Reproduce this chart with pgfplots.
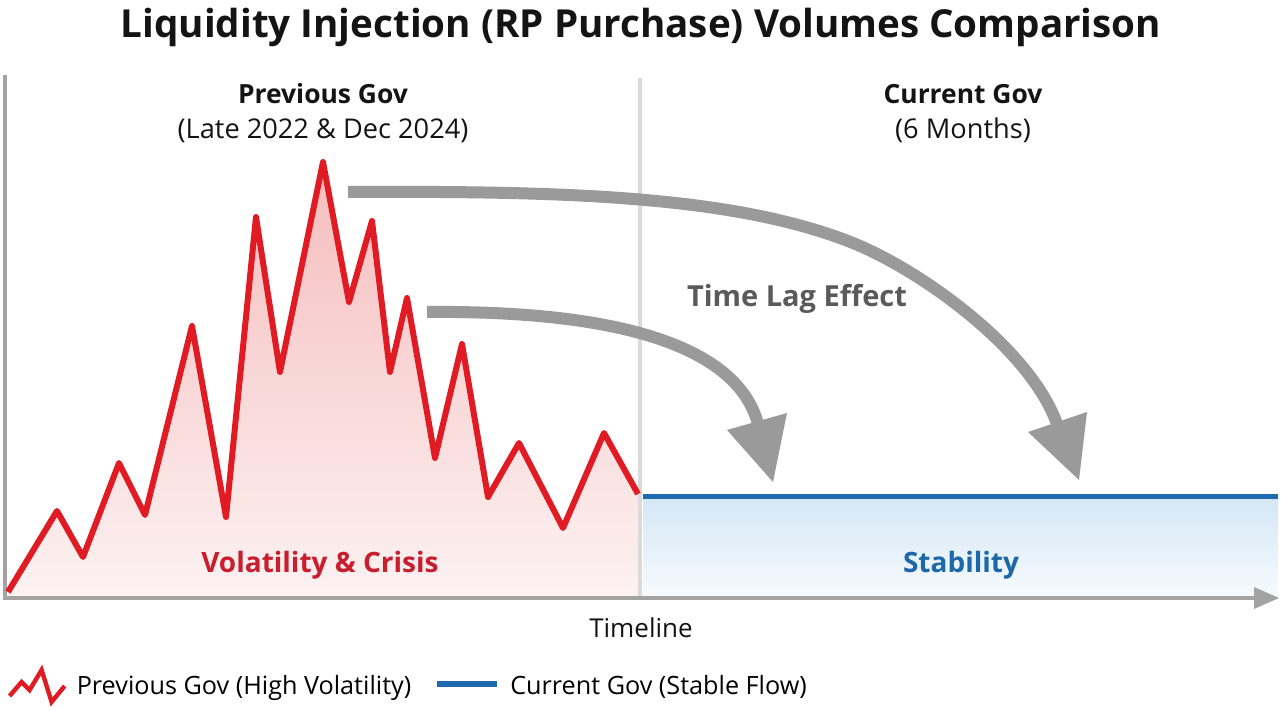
\documentclass[border=0pt]{standalone}
\usepackage{fontspec}
\setmainfont{Open Sans}
\usepackage{pgfplots}
\pgfplotsset{compat=1.18}
\usepackage{pgfplotstable}

\definecolor{redline}{HTML}{E01B24}
\definecolor{redtext}{HTML}{C81E2E}
\definecolor{blueline}{HTML}{1F6AAE}
\definecolor{bluetext}{HTML}{1C68A8}
\definecolor{arrowgray}{HTML}{9A9A9A}
\definecolor{axisgray}{HTML}{A3A3A3}
\definecolor{divgray}{HTML}{DADADA}
\definecolor{lagtext}{HTML}{5A5A5A}
\definecolor{redtop}{RGB}{245,188,188}
\definecolor{redbot}{RGB}{253,242,242}
\definecolor{bluetop}{RGB}{212,231,245}
\definecolor{bluebot}{RGB}{247,251,254}
\definecolor{ink}{HTML}{141414}

\newcommand\fs[1]{\fontsize{#1}{#1}\selectfont}

% heights above the timeline axis
\pgfplotstableread{
x y
8 6
57 87
83 41
119 135
145 83
192 272
226 81
256 381
280 226
323 436
349 296
372 377
390 226
407 300
435 140
462 254
488 101
519 155
563 70
604 165
638 104
}\prevgov

\pgfplotstableread{
x y
643 101
1278 101
}\curgov

\begin{document}
\begin{tikzpicture}
\begin{axis}[
  scale only axis, width=640.5pt, height=355.5pt,
  xmin=0, xmax=1281, ymin=-113, ymax=598,
  hide axis, clip=false,
  legend columns=2,
  legend style={at={(axis cs:7,-88)}, anchor=west, draw=none, fill=none,
    font=\fs{12.6}, inner sep=0pt,
    /tikz/every odd column/.append style={column sep=3pt},
    /tikz/every even column/.append style={column sep=9.5pt}},
]
\path (axis cs:0,-113) rectangle (axis cs:1281,598);

% area fills
\addplot[draw=none, top color=redtop, bottom color=redbot, forget plot] table {\prevgov} \closedcycle;
\addplot[draw=none, top color=bluetop, bottom color=bluebot, forget plot] table {\curgov} \closedcycle;

% divider and axes
\draw[divgray, line width=2pt] (axis cs:640,520) -- (axis cs:640,0);
\draw[axisgray, line width=1.75pt] (axis cs:5,523) -- (axis cs:5,0) -- (axis cs:1258,0);
\fill[axisgray] (axis cs:1254,11) -- (axis cs:1279,0) -- (axis cs:1254,-11) -- cycle;

% series
\addplot[redline, line width=3pt, line join=round,
  legend image code/.code={\draw[redline, line width=2.2pt, line join=miter]
    (0pt,-5pt)--(6pt,2pt)--(10pt,-2pt)--(16pt,8pt)--(21pt,-8pt)--(27.5pt,0pt);}]
  table {\prevgov};
\addlegendentry{Previous Gov (High Volatility)}
\addplot[blueline, line width=2.5pt,
  legend image code/.code={\draw[blueline, line width=3pt] (0pt,1pt)--(30pt,1pt);}]
  table {\curgov};
\addlegendentry{Current Gov (Stable Flow)}

% time lag arrows
\draw[arrowgray, line width=6pt]
  (axis cs:348,406) .. controls (axis cs:560,407) and (axis cs:733,403) .. (axis cs:853,355)
  .. controls (axis cs:920,328) and (axis cs:1030,250) .. (axis cs:1057,174);
\fill[arrowgray] (axis cs:1028,166) -- (axis cs:1079,118) -- (axis cs:1087,186) -- cycle;
\draw[arrowgray, line width=6pt]
  (axis cs:427,286) .. controls (axis cs:660,288) and (axis cs:742,235) .. (axis cs:758,174);
\fill[arrowgray] (axis cs:727,168) -- (axis cs:773,116) -- (axis cs:787,185) -- cycle;

% texts
\node[anchor=base, ink, font=\bfseries\fs{19.3}] at (axis cs:641,560) {Liquidity Injection (RP Purchase) Volumes Comparison};
\node[anchor=base, ink, font=\bfseries\fs{13.2}] at (axis cs:323,494) {Previous Gov};
\node[anchor=base, ink, font=\fs{13.6}] at (axis cs:323,459) {(Late 2022 \& Dec 2024)};
\node[anchor=base, ink, font=\bfseries\fs{13.2}] at (axis cs:963,494) {Current Gov};
\node[anchor=base, ink, font=\fs{13.6}] at (axis cs:963,459) {(6 Months)};
\node[anchor=base, lagtext, font=\bfseries\fs{14.5}] at (axis cs:797,291) {Time Lag Effect};
\node[anchor=base, redtext, font=\bfseries\fs{14}] at (axis cs:320,25) {Volatility \& Crisis};
\node[anchor=base, bluetext, font=\bfseries\fs{14}] at (axis cs:961,25) {Stability};
\node[anchor=base, ink, font=\fs{13}] at (axis cs:641,-40) {Timeline};
\end{axis}
\end{tikzpicture}
\end{document}
